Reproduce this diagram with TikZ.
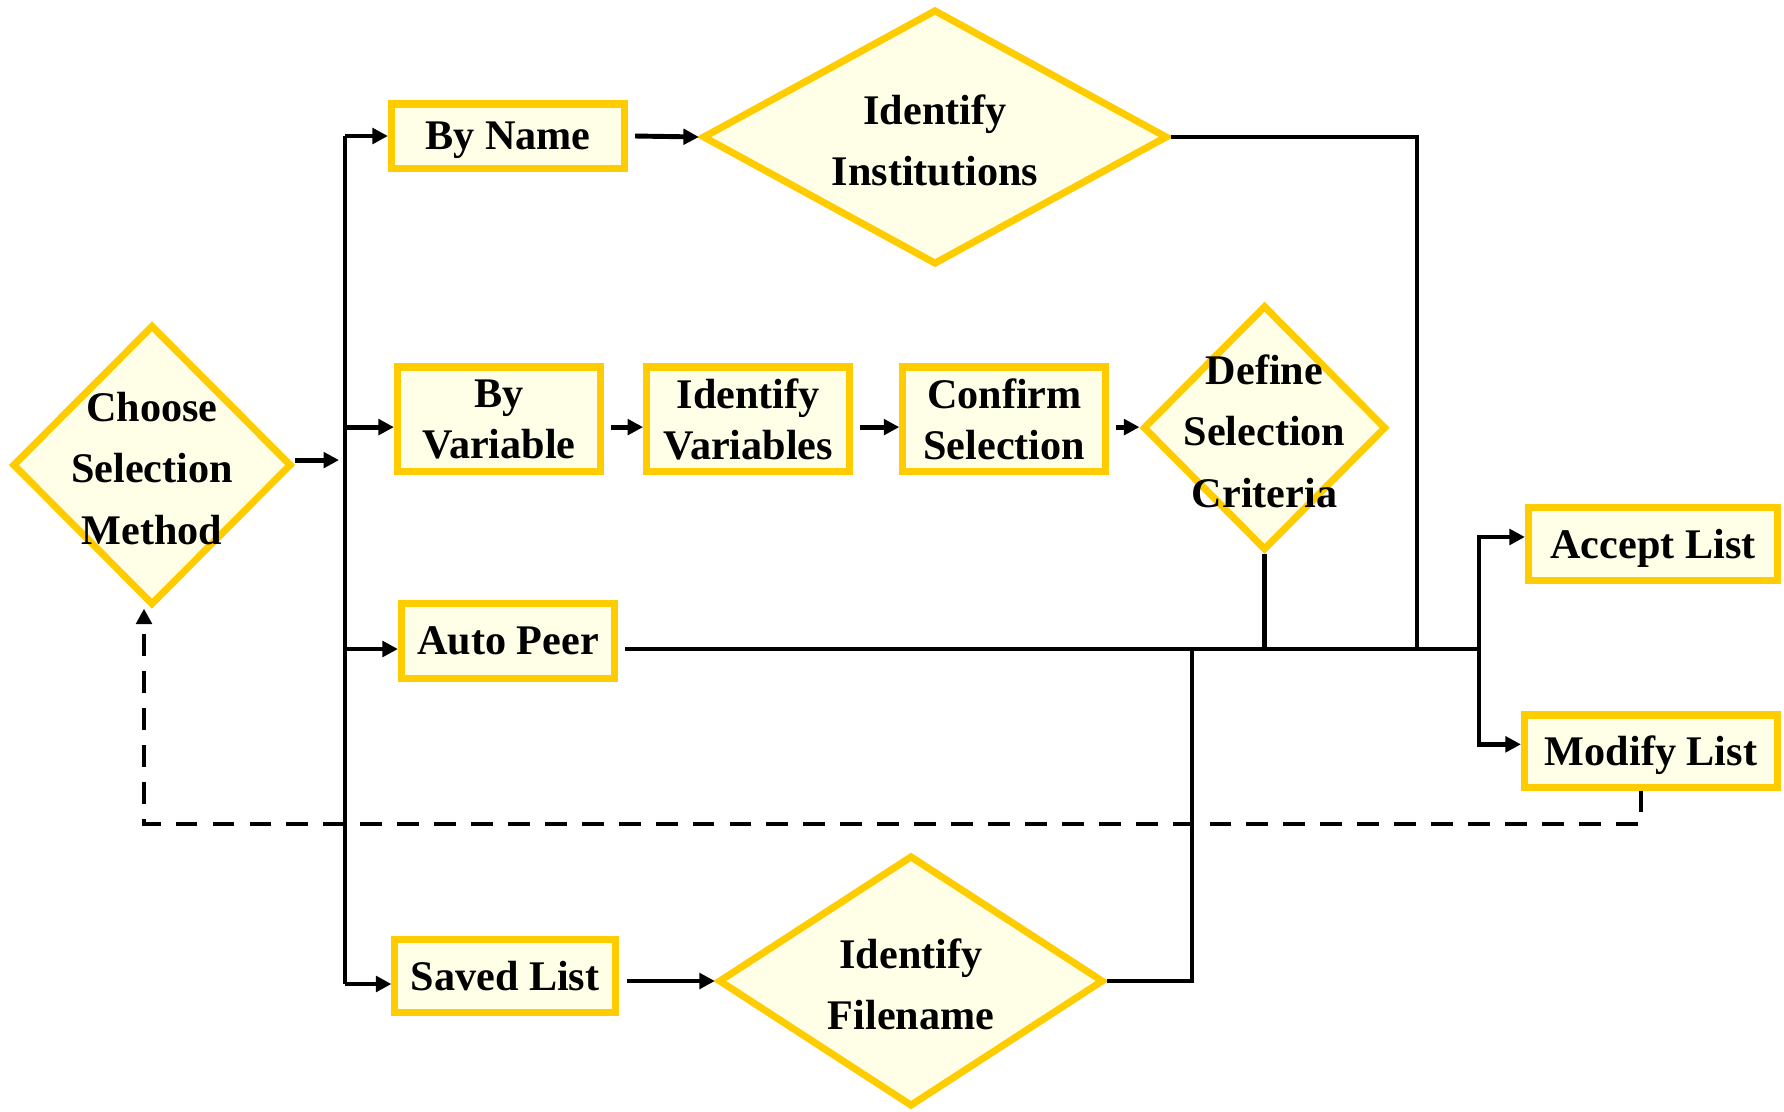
\documentclass[tikz,border=0pt]{standalone}
\usepackage{fontspec}
\setmainfont{Liberation Serif}
\usepackage{xcolor}
\definecolor{cGold} {HTML}{FFCC00}
\definecolor{cCream}{HTML}{FFFFE8}
\usetikzlibrary{shapes.geometric, arrows.meta, positioning}
\tikzset{
  blk/.style 2 args = {rectangle, draw=cGold, line width=2pt, fill=cCream,
                 minimum width=#1, minimum height=#2, inner sep=2pt,
                 text depth=0pt, align=center,
                 font=\bfseries\fontsize{12}{14.6}\selectfont},
  dec/.style 2 args = {diamond, draw=cGold, line width=2pt, fill=cCream,
                 minimum width=#1, minimum height=#2, inner sep=0pt},
  dtxt/.style = {align=center, yshift=-1pt,
                 font=\bfseries\fontsize{12}{17.4}\selectfont},
  lnk/.style  = {line width=1.4pt},
  arr/.style  = {-{Triangle[length=4.4pt,width=4.4pt]}, line width=1.4pt},
  darr/.style = {-{Triangle[length=4.4pt,width=4.4pt]}, line width=1.4pt,
                 dash pattern=on 6.2pt off 4.3pt},
}

\begin{document}
\begin{tikzpicture}[x=0.01cm, y=-0.01cm]
  \useasboundingbox (0,0) rectangle (1784,1111);

  %% Start
  \node[dec={2.79cm}{2.80cm}] (csm) at (152,465) {};
  \node[dtxt] (csm-t) at (csm) {Choose\\Selection\\Method};

  %% Top branch
  \node[blk={2.33cm}{0.64cm}] (bn) at (508,136) {By Name};
  \node[dec={4.65cm}{2.55cm}] (ii) at (935,137) {};
  \node[dtxt] (ii-t) at (ii) {Identify\\Institutions};

  %% Variable branch
  \node[blk={2.03cm}{1.04cm}] (bv) at (499,419) {By\\Variable};
  \node[blk={2.03cm}{1.04cm}, right=0.39cm of bv] (iv) {Identify\\Variables};
  \node[blk={2.03cm}{1.04cm}, right=0.46cm of iv] (cs) {Confirm\\Selection};
  \node[dec={2.43cm}{2.45cm}, right=0.30cm of cs, yshift=-2.5pt] (dsc) {};
  \node[dtxt] (dsc-t) at (dsc) {Define\\Selection\\Criteria};

  %% Auto peer and saved list
  \node[blk={2.13cm}{0.75cm}] (ap) at (508,641) {Auto Peer};
  \node[blk={2.20cm}{0.73cm}] (sl) at (505,976) {Saved List};
  \node[dec={3.85cm}{2.51cm}] (fn) at (911,981) {};
  \node[dtxt] (fn-t) at (fn) {Identify\\Filename};

  %% Results
  \node[blk={2.49cm}{0.73cm}] (al) at (1653,544) {Accept List};
  \node[blk={2.53cm}{0.72cm}] (ml) at (1651,751) {Modify List};

  %% Junction points
  \coordinate (tk)  at (345,136);
  \coordinate (tb)  at (345,984);
  \coordinate (hub) at (1479,649);
  \coordinate (jf)  at (1192,649);
  \coordinate (ji)  at (1417,649);
  \coordinate (fb)  at (1641,824);
  \coordinate (fa)  at (144,824);

  %% Arrows
  \draw[arr] ([yshift=1.4pt]csm.east) -- ([xshift=-1.7pt,yshift=1.4pt]csm.east -| tk);
  \draw[lnk] (tk) -- (tb);
  \draw[arr] (tk) -- (bn.west);
  \draw[arr] ([yshift=-2.3pt]bv.west -| tk) -- ([yshift=-2.3pt]bv.west);
  \draw[arr] (tk |- hub) -- (ap.west |- hub);
  \draw[arr] (tb) -- (sl.west |- tb);

  \draw[arr] ([xshift=2pt]bn.east) -- (ii.west);
  \draw[arr] ([xshift=2pt,yshift=-2.3pt]bv.east) -- ([yshift=-2.3pt]iv.west);
  \draw[arr] ([xshift=2pt,yshift=-2.3pt]iv.east) -- ([yshift=-2.3pt]cs.west);
  \draw[arr] ([xshift=2pt,yshift=-2.3pt]cs.east) -- ([yshift=-2.3pt]cs.east -| dsc.west);
  \draw[arr] ([xshift=2.5pt]sl.east |- fn) -- (fn.west);

  \draw[lnk] ([xshift=2pt]ap.east |- hub) -- (hub);
  \draw[lnk] (ii.east) -| (ji);
  \draw[lnk] (dsc.south) -- (dsc.south |- hub);
  \draw[lnk] (fn.east) -| (jf);
  \draw[arr] (hub) |- ([yshift=2pt]al.west);
  \draw[arr] (hub) |- ([yshift=1.9pt]ml.west);

  \draw[darr] (ml.south -| fb) -- (fb) -- (fa) -- (fa |- csm.south);

\end{tikzpicture}
\end{document}
